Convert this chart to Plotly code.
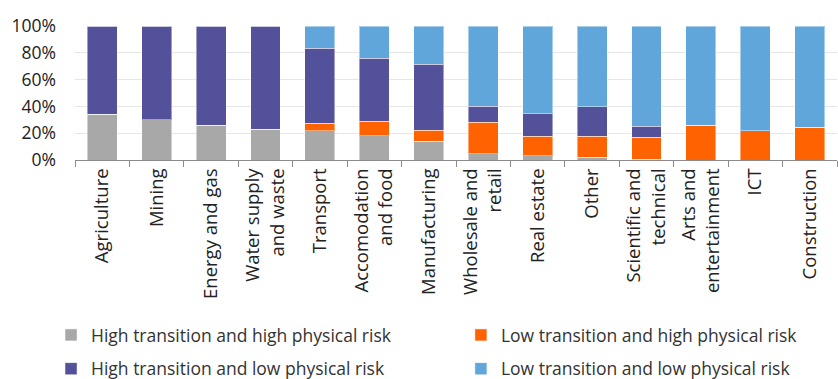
import plotly.graph_objects as go

categories = ["Agriculture", "Mining", "Energy and gas", "Water supply<br>and waste",
              "Transport", "Accomodation<br>and food", "Manufacturing",
              "Wholesale and<br>retail", "Real estate", "Other",
              "Scientific and<br>technical", "Arts and<br>entertainment", "ICT", "Construction"]

high_tr_high_ph = [34, 30, 26, 23, 22, 18, 14, 4.5, 3, 2.2, 0.5, 0, 0, 0]
low_tr_high_ph = [0, 0, 0, 0, 5.5, 11, 8.2, 23.8, 14.9, 15.7, 16.6, 26, 21.8, 24.6]
high_tr_low_ph = [66, 70, 74, 77, 56, 47, 49.1, 11.9, 16.8, 21.8, 8, 0, 0, 0]
low_tr_low_ph = [0, 0, 0, 0, 16.5, 24, 28.7, 59.8, 65.3, 60.3, 74.9, 74, 78.2, 75.4]

series = [
    ("High transition and high physical risk", high_tr_high_ph, "#A8A8A8", "legend", 0.0609, 0.116),
    ("Low transition and high physical risk", low_tr_high_ph, "#FF6200", "legend2", 0.550, 0.116),
    ("High transition and low physical risk", high_tr_low_ph, "#525199", "legend3", 0.0609, 0.027),
    ("Low transition and low physical risk", low_tr_low_ph, "#60A6DA", "legend4", 0.550, 0.027),
]

font = "'Open Sans', sans-serif"

fig = go.Figure()
legends = {}
for name, vals, color, lg, lx, ly in series:
    fig.add_trace(go.Bar(
        x=categories, y=[v / 100 for v in vals], name=name,
        marker=dict(color=color, line=dict(color="rgba(255,255,255,0.45)", width=1)),
        legend=lg,
    ))
    legends[lg] = dict(orientation="h", xref="container", yref="container",
                       x=lx, y=ly, xanchor="left", yanchor="middle",
                       font=dict(family=font, size=17.5, color="#333333"),
                       itemwidth=30, bgcolor="rgba(0,0,0,0)", borderwidth=0)

fig.update_layout(
    width=838, height=379,
    margin=dict(l=75, r=1, t=26, b=219, autoexpand=False),
    barmode="stack", bargap=0.45,
    plot_bgcolor="white", paper_bgcolor="white",
    font=dict(family=font, size=16, color="#333333"),
    showlegend=True,
    xaxis=dict(
        tickangle=-90, tickson="boundaries", ticks="outside", ticklen=6,
        tickcolor="#8C8C8C", showline=True, linecolor="#8C8C8C", linewidth=1,
        tickfont=dict(family=font, size=18.5, color="#222222"), automargin=False,
    ),
    yaxis=dict(
        range=[0, 1], tickformat=".0%", dtick=0.2, showgrid=True,
        gridcolor="#E6E6E6", gridwidth=1, zeroline=False,
        ticklabelstandoff=18, automargin=False,
        tickfont=dict(family=font, size=17.5, color="#222222"),
    ),
    **legends,
)

fig.write_html("out.html")
